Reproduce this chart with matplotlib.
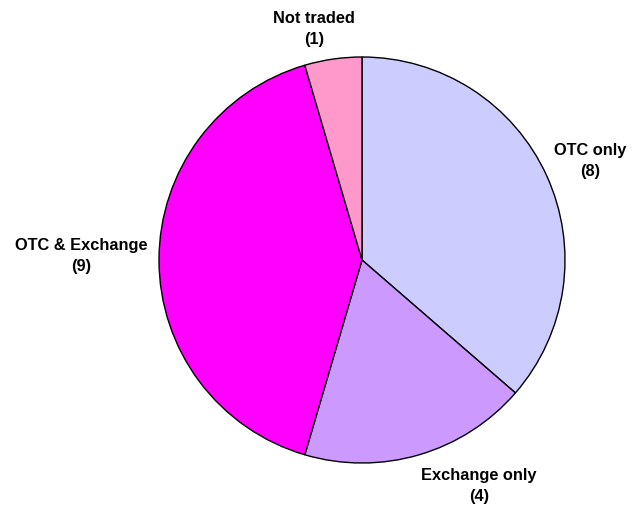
import matplotlib
matplotlib.use('Agg')
import matplotlib.pyplot as plt

# Trading venue breakdown
categories = ['OTC only', 'Exchange only', 'OTC & Exchange', 'Not traded']
counts = [8, 4, 9, 1]
colors = ['#CCCCFF', '#CC99FF', '#FF00FF', '#FF99CC']

# label anchor points (pixel space, y up)
label_pos = [(590, 347), (479, 22), (81, 252), (314, 479)]

plt.rcParams['font.family'] = ['Liberation Sans', 'DejaVu Sans']

fig = plt.figure(figsize=(6.32, 5.08), dpi=100)
ax = fig.add_axes([0, 0, 1, 1])

ax.pie(counts,
       colors=colors,
       startangle=90,
       counterclock=False,
       center=(362, 248),
       radius=203,
       wedgeprops=dict(edgecolor='black', linewidth=1.0),
       frame=True)
ax.set_xlim(0, 632)
ax.set_ylim(0, 508)
ax.set_aspect('equal')
ax.axis('off')

for name, n, (x, y) in zip(categories, counts, label_pos):
    ax.text(x, y, f'{name}\n({n})',
            ha='center', va='center',
            fontsize=11.8, fontweight='bold',
            linespacing=1.55)

fig.savefig('out.png', dpi=100)
